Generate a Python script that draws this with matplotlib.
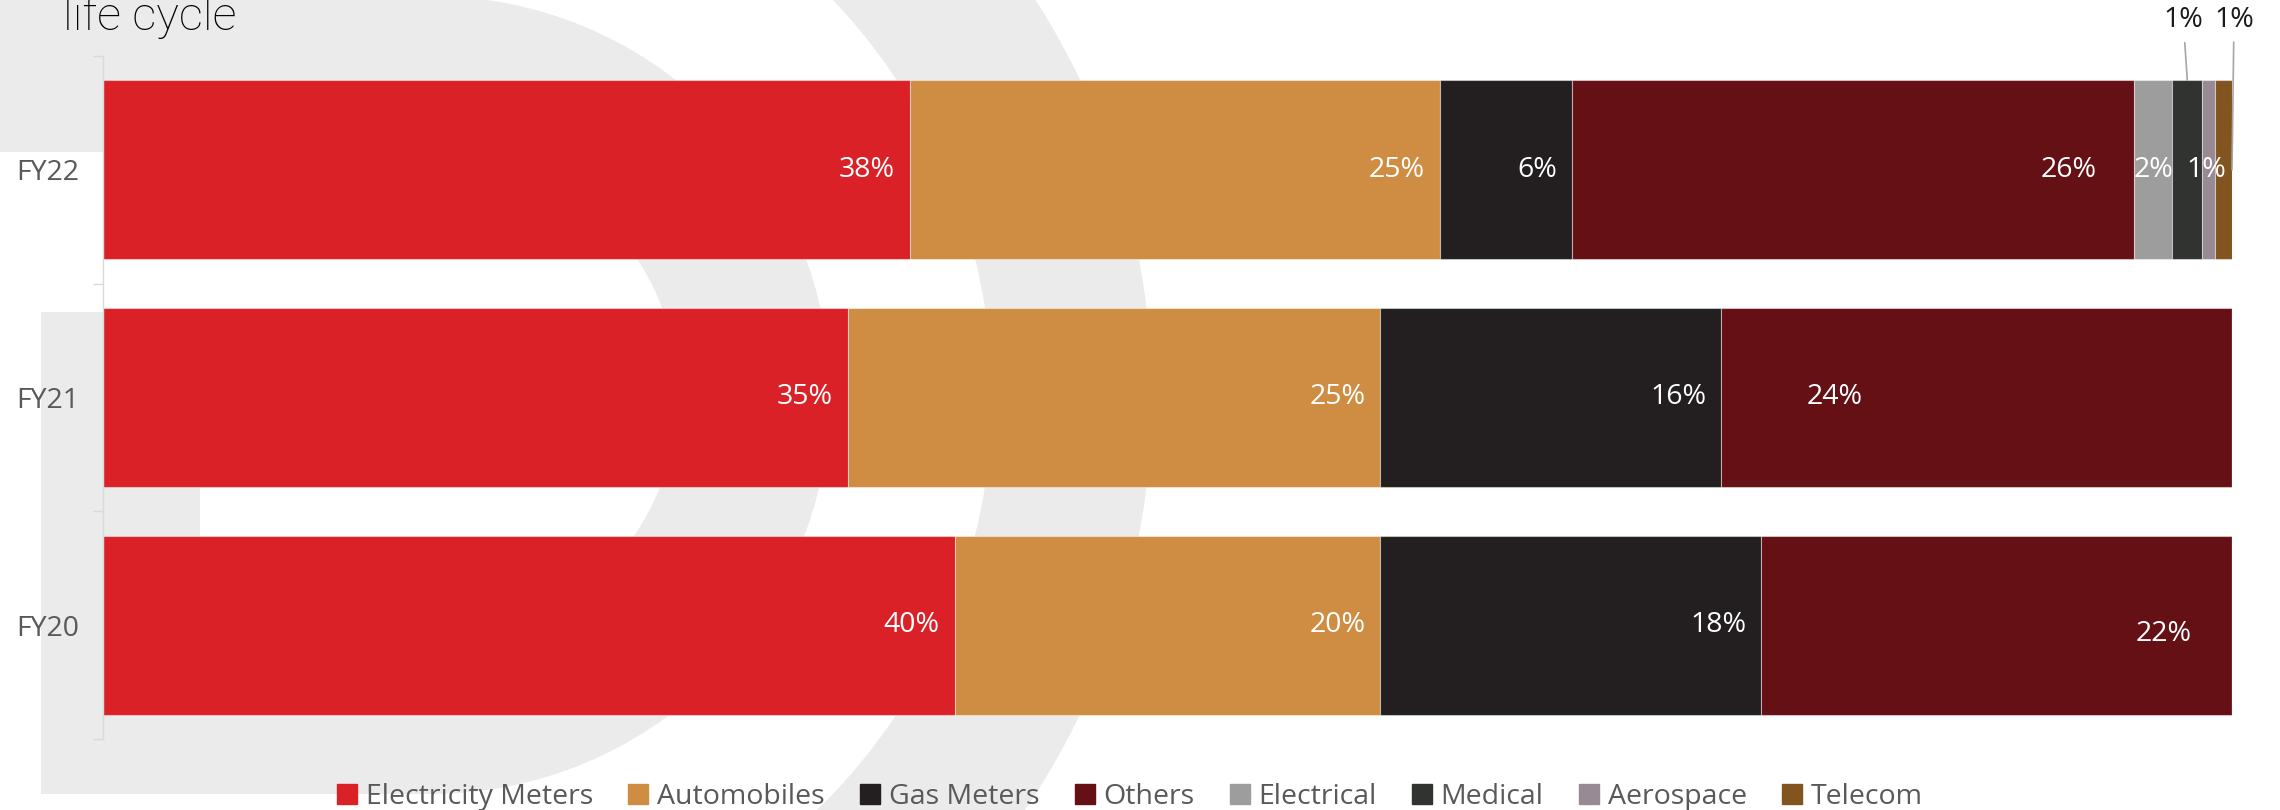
import matplotlib.pyplot as plt
from matplotlib.patches import Wedge, Rectangle
from matplotlib.lines import Line2D

# data (share of revenue, %)
years = ["FY20", "FY21", "FY22"]
segments = ["Electricity Meters", "Automobiles", "Gas Meters", "Others",
            "Electrical", "Medical", "Aerospace", "Telecom"]
electricity_meters = [40.0, 35.0, 37.9]
automobiles = [20.0, 25.0, 24.9]
gas_meters = [17.9, 16.0, 6.2]
others = [22.1, 24.0, 26.4]
electrical = [0, 0, 1.8]
medical = [0, 0, 1.4]
aerospace = [0, 0, 0.6]
telecom = [0, 0, 0.8]
values = [electricity_meters, automobiles, gas_meters, others,
          electrical, medical, aerospace, telecom]

colors = ["#DA2128", "#CE8D42", "#231F20", "#641014",
          "#9D9D9D", "#313330", "#978A94", "#825520"]

W, H = 2280, 810
fig = plt.figure(figsize=(W / 100, H / 100), dpi=100)

# --- background logo shape (pixel coordinates) ---
bg = fig.add_axes([0, 0, 1, 1], zorder=0)
bg.set_xlim(0, W)
bg.set_ylim(H, 0)
bg.axis("off")
grey = "#EBEBEB"
bg.add_patch(Wedge((431, 395), 399, -90, 90, width=152, color=grey, lw=0))
bg.add_patch(Rectangle((-10, -10), 441, 162, color=grey, lw=0))
bg.add_patch(Rectangle((41, 312), 159, 482, color=grey, lw=0))
bg.add_patch(Rectangle((41, 642), 390, 152, color=grey, lw=0))
bg.add_patch(Wedge((417, 397), 735, -90, 90, width=160, color=grey, lw=0))

# --- chart ---
ax = fig.add_axes([103 / W, 1 - 739 / H, (2232 - 103) / W, (739 - 56) / H], zorder=1)
ax.patch.set_alpha(0)

ypos = range(len(years))
left = [0.0] * len(years)
bar_h = 0.786
seg_ends = {}
for name, vals, c in zip(segments, values, colors):
    ax.barh(ypos, vals, left=left, height=bar_h, color=c,
            edgecolor=(1, 1, 1, 0.45), linewidth=0.8)
    for i, v in enumerate(vals):
        seg_ends[(name, years[i])] = (left[i], left[i] + v)
    left = [l + v for l, v in zip(left, vals)]

ax.set_xlim(0, 100)
ax.set_ylim(-0.5, 2.5)

lab_font = dict(family="Open Sans", fontsize=20.5)

# label placement tweaks: (ha, anchor, dx px, dy px)
special = {
    ("Others", "FY22"): ("right", "end", -37, 0),
    ("Others", "FY21"): ("center", "end", -397, 0),
    ("Others", "FY20"): ("center", "end", -68, -9),
    ("Electrical", "FY22"): ("center", "mid", 0, 0),
    ("Aerospace", "FY22"): ("center", "mid", -2, 0),
}
outside = {
    ("Medical", "FY22"): ("mid", "top", -4, 60),
    ("Telecom", "FY22"): ("end", "mid", 2, 150),
}

for name, vals in zip(segments, values):
    for i, v in enumerate(vals):
        if v <= 0:
            continue
        key = (name, years[i])
        s, e = seg_ends[key]
        txt = f"{v:.0f}%"
        if key in outside:
            xa, ya, dx, dy = outside[key]
            x = (s + e) / 2 if xa == "mid" else e
            y = i + bar_h / 2 if ya == "top" else i
            ax.annotate(txt, xy=(x, y), xytext=(dx, dy), textcoords="offset pixels",
                        ha="center", va="center", color="#1a1a1a",
                        arrowprops=dict(arrowstyle="-", color="#A6A6A6", lw=1.2,
                                        shrinkA=4, shrinkB=0),
                        annotation_clip=False, **lab_font)
            continue
        ha, anchor, dx, dy = special.get(key, ("right", "end", -15, 0))
        x = e if anchor == "end" else (s + e) / 2
        ax.annotate(txt, xy=(x, i), xytext=(dx, dy), textcoords="offset pixels",
                    ha=ha, va="center", color="white", **lab_font)

for sp in ["top", "right", "bottom"]:
    ax.spines[sp].set_visible(False)
ax.spines["left"].set_color("#D9D9D9")
ax.spines["left"].set_linewidth(1.0)
ax.xaxis.set_visible(False)
ax.set_yticks(list(ypos))
ax.set_yticklabels(years, family="Open Sans", fontsize=20.5, color="#595959")
ax.set_yticks([-0.5, 0.5, 1.5, 2.5], minor=True)
ax.tick_params(axis="y", which="major", length=0, pad=17)
ax.tick_params(axis="y", which="minor", length=7.2, width=1.0, color="#D9D9D9")

# title fragment (cut at top, as in the source slide)
fig.text(63 / W, 1 - 30 / H, "life cycle", ha="left", va="baseline",
         family="Roboto", fontweight="light", fontsize=34, color="black")

handles = [Line2D([], [], marker="s", ls="", markersize=14.4, color=c) for c in colors]
fig.legend(handles, segments, loc="center", bbox_to_anchor=(1130 / W, 1 - 797 / H),
           ncol=8, frameon=False, prop=dict(family="Open Sans", size=20.5),
           labelcolor="#595959", handlelength=0.7, handletextpad=0.3,
           columnspacing=1.25, borderpad=0)

fig.savefig("out.png", dpi=100)
